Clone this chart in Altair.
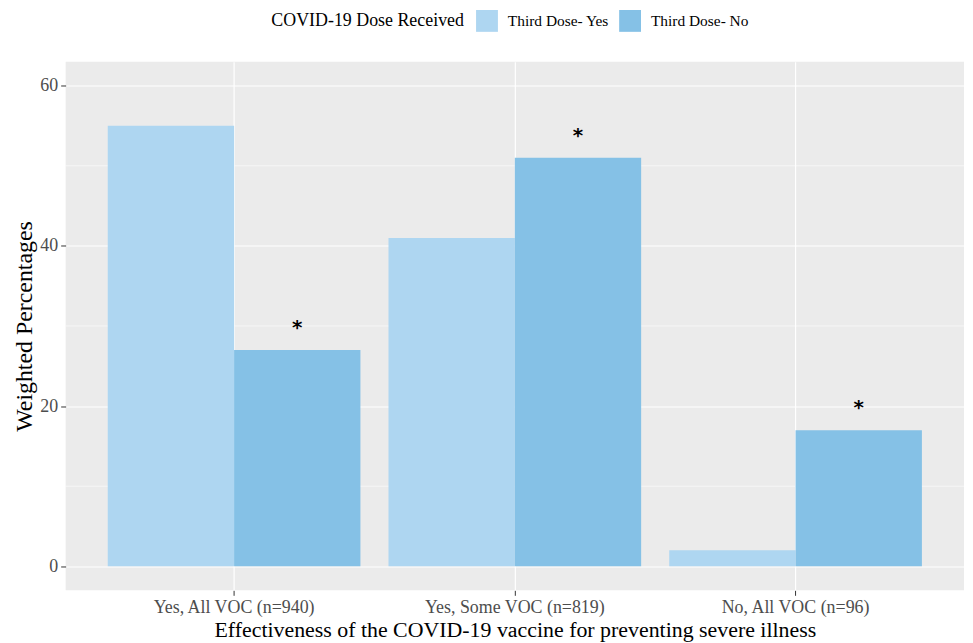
import altair as alt
import pandas as pd

groups = ["Yes, All VOC (n=940)", "Yes, Some VOC (n=819)", "No, All VOC (n=96)"]
doses = ["Third Dose- Yes", "Third Dose- No"]
yes_vals = [55, 41, 2]
no_vals = [27, 51, 17]
no_star = ["*", "*", "*"]
minor_grid = [10, 30, 50]
colors = ["#AED6F1", "#85C1E6"]

rows = []
for g, y, n, s in zip(groups, yes_vals, no_vals, no_star):
    rows.append({"Group": g, "Dose": doses[0], "Value": y, "Star": ""})
    rows.append({"Group": g, "Dose": doses[1], "Value": n, "Star": s})
df = pd.DataFrame(rows)
minor_df = pd.DataFrame({"v": minor_grid})

FONT = "Liberation Serif"

x_enc = alt.X("Group:N", sort=groups,
              scale=alt.Scale(paddingInner=0.1, paddingOuter=0.15),
              axis=alt.Axis(title="Effectiveness of the COVID-19 vaccine for preventing severe illness",
                            labelAngle=0, bandPosition=0.5, grid=True, labelLimit=400,
                            labelFontSize=18, titleFontSize=22))
xo_enc = alt.XOffset("Dose:N", sort=doses, scale=alt.Scale(paddingInner=0, paddingOuter=0))
y_scale = alt.Scale(domain=[-3, 63], nice=False)

minor = alt.Chart(minor_df).mark_rule(color="white", strokeWidth=0.6).encode(
    y=alt.Y("v:Q", scale=y_scale)
)

bars = alt.Chart(df).mark_bar().encode(
    x=x_enc,
    xOffset=xo_enc,
    y=alt.Y("Value:Q", scale=y_scale,
            axis=alt.Axis(title="Weighted Percentages", values=[0, 20, 40, 60],
                          labelFontSize=18, titleFontSize=24)),
    color=alt.Color("Dose:N", sort=doses,
                    scale=alt.Scale(domain=doses, range=colors),
                    legend=alt.Legend(title="COVID-19 Dose Received", orient="none",
                                      legendX=207, legendY=-52,
                                      direction="horizontal", titleOrient="left")),
)

stars = alt.Chart(df).mark_text(fontSize=20, fontWeight="bold", color="black",
                                baseline="middle", dy=-22, font="DejaVu Sans").encode(
    x=alt.X("Group:N", sort=groups),
    xOffset=alt.XOffset("Dose:N", sort=doses),
    y=alt.Y("Value:Q", scale=y_scale),
    text="Star:N",
)

chart = alt.layer(minor, bars, stars).properties(
    width=904, height=532, background="white",
    padding={"left": 5, "top": 0, "right": 0, "bottom": 0},
).configure_view(
    fill="#EBEBEB", stroke=None
).configure_axis(
    grid=True, gridColor="white", gridWidth=1.2, domain=False,
    tickColor="#333333", tickSize=5, tickWidth=1,
    labelFont=FONT, labelColor="#4D4D4D", labelPadding=3,
    titleFont=FONT, titleFontWeight="normal", titleColor="black",
).configure_axisX(
    titlePadding=3
).configure_axisY(
    titlePadding=3
).configure_legend(
    titleFont=FONT, titleFontSize=18, titleFontWeight="normal", titleColor="black",
    labelFont=FONT, labelFontSize=15.5, labelColor="black",
    titleLimit=400, labelLimit=300,
    symbolType="square", symbolSize=484, symbolStrokeWidth=0,
    columnPadding=10, labelOffset=10, titlePadding=12,
)

chart.save("out.html", embed_options={"renderer": "svg", "actions": False})
